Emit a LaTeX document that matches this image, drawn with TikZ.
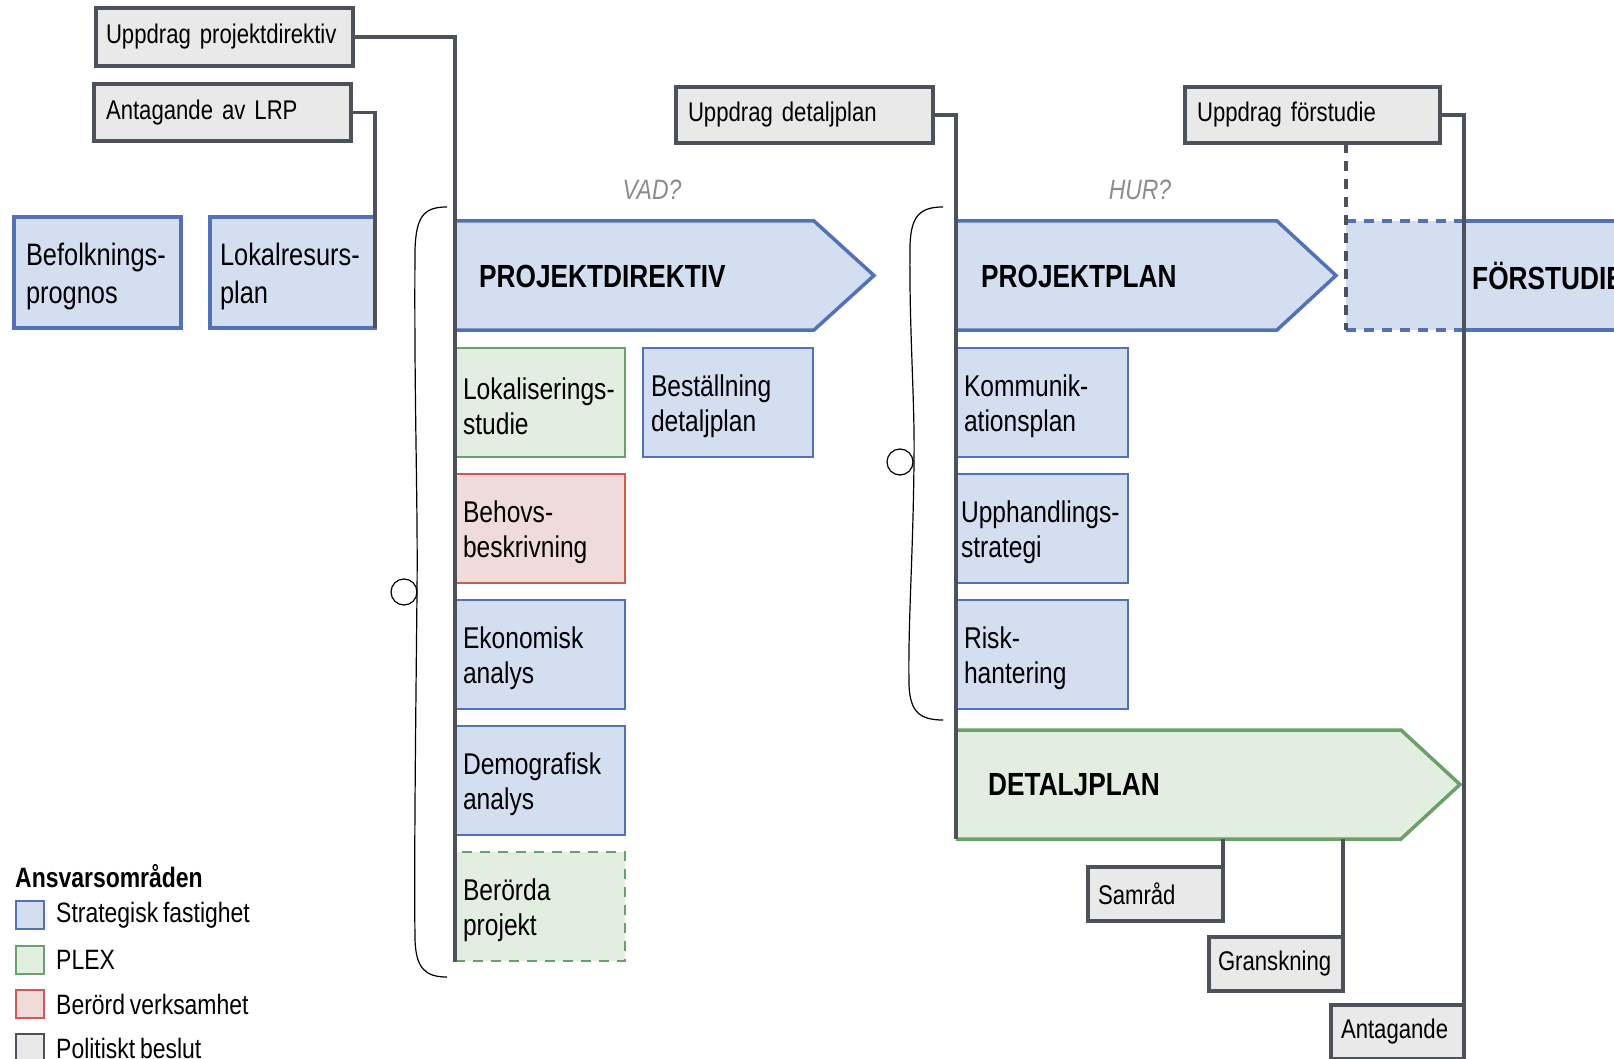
\documentclass[tikz,border=0pt]{standalone}
\usepackage{fontspec}
\setmainfont[FakeStretch=0.82,WordSpace=0.75]{Liberation Sans}
\hyphenpenalty=10000
\definecolor{blueF}{HTML}{D4DEF1}
\definecolor{blueD}{HTML}{5372B5}
\definecolor{greenF}{HTML}{E1EEE0}
\definecolor{greenD}{HTML}{6BA06B}
\definecolor{redF}{HTML}{F0DBDB}
\definecolor{redD}{HTML}{CD5A55}
\definecolor{grayF}{HTML}{E9E9E9}
\definecolor{grayD}{HTML}{4D525A}
\definecolor{qgray}{HTML}{8C8C8C}
\begin{document}
\begin{tikzpicture}[x=1pt,y=-1pt,
  conn/.style={draw=grayD, line width=3.5pt},
  dconn/.style={draw=grayD, line width=3.5pt, dash pattern=on 10pt off 8pt},
  gbox/.style={draw=grayD, fill=grayF, line width=3.5pt, anchor=north west, outer sep=0pt,
    inner xsep=12pt, inner ysep=0pt, align=left, font=\fontsize{27}{32}\selectfont},
  bigbox/.style={draw=blueD, fill=blueF, line width=3.5pt, anchor=north west, outer sep=0pt,
    inner xsep=11pt, inner ysep=0pt, align=left, minimum height=111pt, text width=145pt,
    font=\fontsize{31}{38}\selectfont, execute at begin node={\rule{0pt}{30pt}}},
  sbox/.style={line width=2pt, anchor=north west, outer sep=0pt, inner xsep=8pt, inner ysep=0pt,
    align=left, minimum height=109pt, text width=154pt, font=\fontsize{30}{35}\selectfont,
    execute at begin node={\rule{0pt}{30pt}}},
  bluebox/.style={sbox, draw=blueD, fill=blueF},
  greenbox/.style={sbox, draw=greenD, fill=greenF},
  redbox/.style={sbox, draw=redD, fill=redF},
  phase/.style={anchor=west, inner sep=0pt, font=\fontsize{32}{38}\selectfont\bfseries},
  quest/.style={inner sep=0pt, text=qgray, font=\fontsize{28}{32}\selectfont\itshape},
  bracel/.style={draw=black, line width=1.2pt},
  legsq/.style={anchor=north west, outer sep=0pt, line width=2pt, minimum width=28pt, minimum height=28pt, inner sep=0pt},
  legtxt/.style={anchor=west, inner sep=0pt, font=\fontsize{28}{32}\selectfont},
]
\clip (0,0) rectangle (1614,1059);
\fill[white] (0,0) rectangle (1614,1059);

% ---------- phase arrows ----------
\fill[blueF] (455,221) -- (814,221) -- (874,275.5) -- (814,330) -- (455,330) -- cycle;
\draw[blueD, line width=3.5pt] (455,221) -- (814,221) -- (874,275.5) -- (814,330) -- (455,330);
\node[phase] (pdl) at (479,276) {PROJEKTDIREKTIV};

\fill[blueF] (956,221) -- (1277,221) -- (1336,275.5) -- (1277,330) -- (956,330) -- cycle;
\draw[blueD, line width=3.5pt] (956,221) -- (1277,221) -- (1336,275.5) -- (1277,330) -- (956,330);
\node[phase] (ppl) at (981,276) {PROJEKTPLAN};

\fill[greenF] (956,730) -- (1401,730) -- (1460,784.5) -- (1401,839) -- (956,839) -- cycle;
\draw[greenD, line width=3.5pt] (956,730) -- (1401,730) -- (1460,784.5) -- (1401,839) -- (956,839);
\node[phase] (dpl) at (988,785) {DETALJPLAN};

\fill[blueF] (1346,221) rectangle (1640,330);
\draw[blueD, line width=3.5pt, dash pattern=on 10pt off 8pt] (1346,221) -- (1464,221);
\draw[blueD, line width=3.5pt, dash pattern=on 10pt off 8pt] (1346,330) -- (1464,330);
\draw[blueD, line width=3.5pt] (1464,221) -- (1640,221);
\draw[blueD, line width=3.5pt] (1464,330) -- (1640,330);
\node[phase] (fsl) at (1472,276) {FÖRSTUDIE};

\node[quest] (vad) at (652,190) {VAD?};
\node[quest] (hur) at (1140,190) {HUR?};

% ---------- boxes ----------
\node[bigbox, text width=143pt, inner xsep=12pt] (befolk) at (14,217) {Befolknings-\\prognos};
\node[bigbox, text width=145pt, inner xsep=10pt] (lokres) at (210,217) {Lokalresurs-\\plan};

\node[greenbox] (lokal) at (455,348) {Lokaliserings-\\studie};
\node[bluebox] (best) at (643,348) {Beställning\\detaljplan};
\node[redbox] (behov) at (455,474) {Behovs-\\beskrivning};
\node[bluebox] (ekon) at (455,600) {Ekonomisk\\analys};
\node[bluebox] (demo) at (455,726) {Demografisk\\analys};
\node[greenbox, dash pattern=on 10pt off 8pt] (berorda) at (455,852) {Berörda\\projekt};

\node[bluebox, text width=156pt] (komm) at (956,348) {Kommunik-\\ationsplan};
\node[bluebox, inner xsep=5pt, text width=162pt] (upph) at (956,474) {Upphandlings-\\strategi};
\node[bluebox, text width=156pt] (risk) at (956,600) {Risk-\\hantering};

\node[gbox, minimum height=58pt, inner xsep=10pt, text width=237pt] (upd1) at (96,8) {Uppdrag projektdirektiv};
\node[gbox, minimum height=57pt, text width=233pt] (lrp) at (94,84) {Antagande av LRP};
\node[gbox, minimum height=56pt, text width=233pt] (upd2) at (676,87) {Uppdrag detaljplan};
\node[gbox, minimum height=56pt, text width=231pt] (upd3) at (1185,87) {Uppdrag förstudie};
\node[gbox, inner xsep=10pt, minimum height=54pt, text width=115pt] (samrad) at (1088,867) {Samråd};
\node[gbox, inner xsep=9pt, minimum height=54pt, text width=116pt] (gransk) at (1209,937) {Granskning};
\node[gbox, inner xsep=10pt, minimum height=54pt, text width=113pt] (antag) at (1331,1005) {Antagande};

% ---------- connectors ----------
\coordinate (c1) at (455,962);
\coordinate (c2) at (956,839);
\coordinate (c3) at (1464,1070);
\coordinate (fsd) at (1346,330);
\coordinate (dp1) at (1223,839);
\coordinate (dp2) at (1343,839);
\draw[conn] (upd1.east) -| (c1);
\draw[conn] (lrp.east) -| (lokres.south east);
\draw[conn] (upd2.east) -| (c2);
\draw[conn] (upd3.east) -| (c3);
\draw[dconn] (upd3.south -| fsd) -- (fsd);
\draw[conn] (dp1) -- (samrad.north east);
\draw[conn] (dp2) -- (gransk.north east);

% ---------- braces ----------
\draw[bracel] (447,207) .. controls (424,207) and (416,216) .. (415,250)
  .. controls (414,400) and (418,500) .. (417,592)
  .. controls (416,700) and (414,850) .. (415,940)
  .. controls (416,968) and (425,977) .. (447,977);
\draw[bracel] (404,592) circle[radius=13pt];
\draw[bracel] (943,207) .. controls (920,207) and (911,216) .. (910,245)
  .. controls (909,330) and (915,400) .. (914,462)
  .. controls (913,560) and (908,620) .. (909,685)
  .. controls (910,712) and (920,720) .. (943,720);
\draw[bracel] (900,462) circle[radius=13pt];

% ---------- legend ----------
\node[anchor=west, inner sep=0pt, font=\fontsize{28}{32}\selectfont\bfseries] (legt) at (15,876) {Ansvarsområden};
\node[legsq, draw=blueD, fill=blueF] (lq1) at (16,901) {};
\node[legsq, draw=greenD, fill=greenF] (lq2) at (16,946) {};
\node[legsq, draw=redD, fill=redF] (lq3) at (16,990) {};
\node[legsq, draw=grayD, fill=grayF] (lq4) at (16,1034) {};
\node[legtxt] (lt1) at (56,915) {Strategisk fastighet};
\node[legtxt] (lt2) at (56,960) {PLEX};
\node[legtxt] (lt3) at (56,1004) {Berörd verksamhet};
\node[legtxt] (lt4) at (56,1048) {Politiskt beslut};
\end{tikzpicture}
\end{document}
